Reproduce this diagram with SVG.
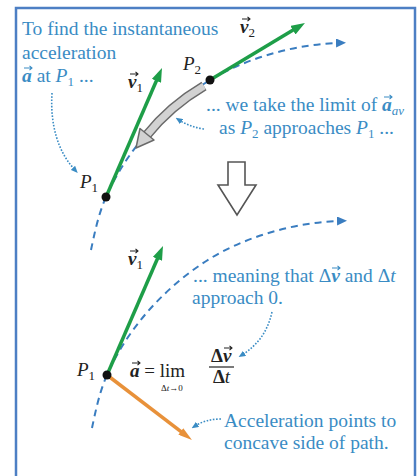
<svg xmlns="http://www.w3.org/2000/svg" width="419" height="476" viewBox="0 0 419 476">
<defs>
<style>
.t{font-family:"Liberation Serif",serif;font-size:19.5px;fill:#3a8cc4}
.k{font-family:"Liberation Serif",serif;font-size:19px;fill:#222}
.i{font-style:italic}
.b{font-weight:bold;font-style:italic}
.bu{font-weight:bold}
.s{font-size:13px}
.dash{fill:none;stroke:#3a7dc0;stroke-width:2;stroke-dasharray:7 5}
.dot{fill:none;stroke:#3a8cc4;stroke-width:1.6;stroke-dasharray:1.6 1.6}
.g{fill:none;stroke:#1e9e48;stroke-width:3.5}
.o{fill:none;stroke:#e8913a;stroke-width:3.5}
.acc{fill:none;stroke:#222;stroke-width:1.1}
.accb{fill:none;stroke:#3a8cc4;stroke-width:1.1}
</style>
<marker id="gh" viewBox="0 0 14 10" refX="6" refY="5" markerWidth="14" markerHeight="10" markerUnits="userSpaceOnUse" orient="auto"><path d="M0,0 L14,5 L0,10 z" fill="#1e9e48"/></marker>
<marker id="oh" viewBox="0 0 14 8" refX="6" refY="4" markerWidth="14" markerHeight="8" markerUnits="userSpaceOnUse" orient="auto"><path d="M0,0 L14,4 L0,8 z" fill="#e8913a"/></marker>
<marker id="bh" viewBox="0 0 10 9" refX="2" refY="4.5" markerWidth="10" markerHeight="9" markerUnits="userSpaceOnUse" orient="auto"><path d="M0,0 L10,4.5 L0,9 z" fill="#3a7dc0"/></marker>
<marker id="dh" viewBox="0 0 7 6" refX="3" refY="3" markerWidth="7" markerHeight="6" markerUnits="userSpaceOnUse" orient="auto"><path d="M0,0 L7,3 L0,6 z" fill="#3a8cc4"/></marker>
<path id="curve" d="M 91 250 C 94 236 98 215 106 197 C 127 149 166 107 210 80 C 250 56 300 44 338 43"/>
<path id="vec" d="M0,0 H8 M5.5,-2.2 L8,0 L5.5,2.2"/>
</defs>
<rect x="16" y="8" width="399" height="490" fill="#fff" stroke="#4d7fc4" stroke-width="2.5"/>

<g id="connectors">
<use href="#curve" class="dash" marker-end="url(#bh)"/>
<use href="#curve" class="dash" marker-end="url(#bh)" transform="translate(1,178)"/>
<path class="dot" d="M 52 93 C 50 125 58 152 75 170" marker-end="url(#dh)"/>
<path class="dot" d="M 204 129 Q 190 127 179 120" marker-end="url(#dh)"/>
<path class="dot" d="M 272 312 Q 266 340 242 355" marker-end="url(#dh)"/>
<path class="dot" d="M 221 419 Q 206 419 195 426" marker-end="url(#dh)"/>
</g>

<g id="delta-arrow">
<path d="M 204 86 Q 170 106 146 136" fill="none" stroke="#6a6a6a" stroke-width="10"/>
<path d="M 204 86 Q 170 106 146 136" fill="none" stroke="#d2d2d2" stroke-width="7"/>
<polygon points="136,148 154,140 140,128.5" fill="#d2d2d2" stroke="#6a6a6a" stroke-width="1.5" stroke-linejoin="round"/>
</g>

<g id="v1-top"><line class="g" x1="106" y1="197" x2="158.8" y2="75.3" marker-end="url(#gh)"/></g>
<g id="v2-top"><line class="g" x1="210" y1="80" x2="298.1" y2="27.1" marker-end="url(#gh)"/></g>
<g id="v1-bottom"><line class="g" x1="107" y1="375" x2="159.8" y2="253.3" marker-end="url(#gh)"/></g>
<g id="a-bottom"><line class="o" x1="107" y1="375" x2="185.6" y2="435.1" marker-end="url(#oh)"/></g>

<g id="points">
<circle cx="210" cy="80" r="4.5" fill="#111"/>
<circle cx="106" cy="197" r="4.5" fill="#111"/>
<circle cx="107" cy="375" r="4.5" fill="#111"/>
</g>

<g id="down-arrow">
<polygon points="228,162 245,162 245,185 256,185 237,215 218,185 228,185" fill="#fff" stroke="#555" stroke-width="1.6"/>
</g>

<g id="labels">
<text class="k" x="240" y="33"><tspan class="b">v</tspan><tspan class="s" dy="4">2</tspan></text>
<use href="#vec" class="acc" x="242" y="19"/>
<text class="k" x="183" y="70"><tspan class="i">P</tspan><tspan class="s" dy="4">2</tspan></text>
<text class="k" x="128" y="88"><tspan class="b">v</tspan><tspan class="s" dy="4">1</tspan></text>
<use href="#vec" class="acc" x="130" y="74"/>
<text class="k" x="80" y="188"><tspan class="i">P</tspan><tspan class="s" dy="4">1</tspan></text>
<text class="k" x="128" y="265"><tspan class="b">v</tspan><tspan class="s" dy="4">1</tspan></text>
<use href="#vec" class="acc" x="130" y="251"/>
<text class="k" x="77" y="376"><tspan class="i">P</tspan><tspan class="s" dy="4">1</tspan></text>
</g>

<g id="formula">
<text class="k" x="130" y="377"><tspan class="b">a</tspan> = lim</text>
<use href="#vec" class="acc" x="132" y="363"/>
<text class="k" x="161" y="391" style="font-size:9px">Δ<tspan class="i">t</tspan>→0</text>
<text class="k" x="211" y="362"><tspan class="bu">Δ</tspan><tspan class="b">v</tspan></text>
<use href="#vec" class="acc" x="224" y="348"/>
<line x1="209" y1="367" x2="234" y2="367" stroke="#222" stroke-width="1.2"/>
<text class="k" x="221.5" y="383" text-anchor="middle"><tspan class="bu">Δ</tspan><tspan class="i">t</tspan></text>
</g>

<g id="note-find">
<text class="t" x="22" y="35">To find the instantaneous</text>
<text class="t" x="22" y="59">acceleration</text>
<text class="t" x="22" y="82"><tspan class="b">a</tspan> at <tspan class="i">P</tspan><tspan class="s" dy="4">1</tspan><tspan dy="-4"> ...</tspan></text>
<use href="#vec" class="accb" x="24" y="68"/>
</g>
<g id="note-limit">
<text class="t" x="206" y="111">... we take the limit of <tspan class="b">a</tspan><tspan class="s i" dy="4">av</tspan></text>
<use href="#vec" class="accb" x="384" y="97"/>
<text class="t" x="219" y="134">as <tspan class="i">P</tspan><tspan class="s" dy="4">2</tspan><tspan dy="-4"> approaches </tspan><tspan class="i">P</tspan><tspan class="s" dy="4">1</tspan><tspan dy="-4"> ...</tspan></text>
</g>
<g id="note-meaning">
<text class="t" x="193" y="282">... meaning that Δ<tspan class="b">v</tspan> and Δ<tspan class="i">t</tspan></text>
<use href="#vec" class="accb" x="332" y="268"/>
<text class="t" x="192" y="304">approach 0.</text>
</g>
<g id="note-concave">
<text class="t" x="224" y="427">Acceleration points to</text>
<text class="t" x="224" y="449">concave side of path.</text>
</g>
</svg>
